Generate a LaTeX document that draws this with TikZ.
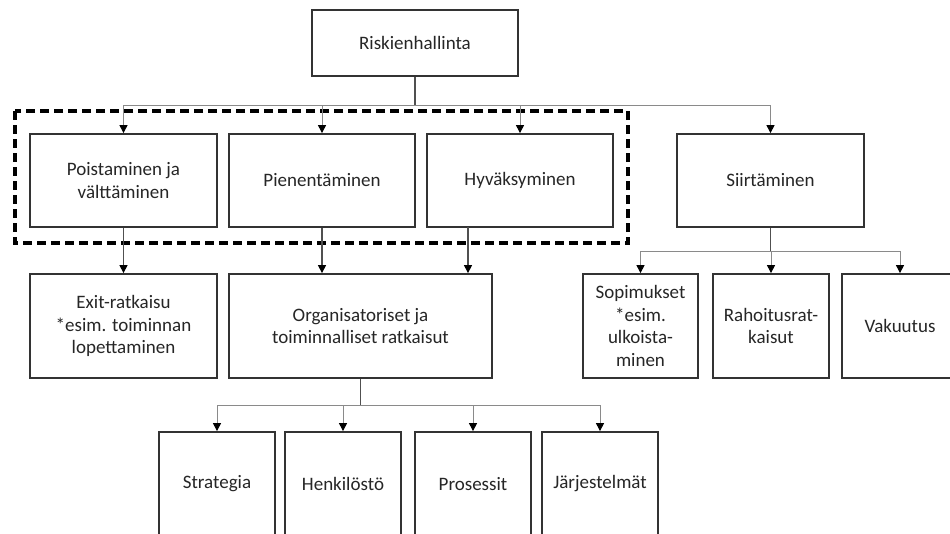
\documentclass[tikz,border=0pt]{standalone}
\usepackage{fontspec}
\setmainfont{Carlito}
\usetikzlibrary{arrows.meta}
\definecolor{boxline}{HTML}{333333}
\definecolor{txt}{HTML}{262626}
\definecolor{busline}{HTML}{8A8A8A}
\definecolor{trunkline}{HTML}{505050}
\begin{document}
\begin{tikzpicture}[x=1pt,y=-1pt,
  box/.style={draw=boxline, line width=1.8pt, fill=white, text=txt,
    align=center, inner sep=2pt,
    font=\fontsize{19}{22.7}\selectfont},
  trunk/.style={draw=trunkline, line width=1.2pt},
  tip/.style={-{Triangle[width=8pt,length=8pt,fill=black,color=black]}},
  link/.style={draw=busline, line width=1pt, tip},
  group/.style={draw=black, line width=3.8pt, dash pattern=on 9pt off 5pt}]
\useasboundingbox (0,0) rectangle (950,533);
\clip (0,0) rectangle (950,533);

% top level
\node[box, minimum width=206pt, minimum height=66pt] (risk) at (415,43) {Riskienhallinta};

% strategies
\node[box, minimum width=187pt, minimum height=93pt] (poist) at (123.5,180.5) {Poistaminen ja\\välttäminen};
\node[box, minimum width=186pt, minimum height=93pt] (pien) at (322,180.5) {Pienentäminen};
\node[box, minimum width=186pt, minimum height=93pt] (hyv) at (520,180.5) {Hyväksyminen};
\node[box, minimum width=187pt, minimum height=93pt] (siirt) at (770.5,180.5) {Siirtäminen};

% grouping frame around the first three strategies
\draw[group] (15,111) rectangle (628,243);

% means
\node[box, minimum width=187pt, minimum height=104pt] (exit) at (123.5,326) {Exit-ratkaisu\\*esim. toiminnan\\lopettaminen};
\node[box, minimum width=263pt, minimum height=104pt] (org) at (360.5,326) {Organisatoriset ja\\toiminnalliset ratkaisut};
\node[box, minimum width=115pt, minimum height=104pt] (sop) at (640.5,326) {Sopimukset\\*esim.\\ulkoista-\\minen};
\node[box, minimum width=116pt, minimum height=104pt] (rah) at (771,326) {Rahoitusrat-\\kaisut};
\node[box, minimum width=116pt, minimum height=104pt] (vak) at (900,326) {Vakuutus};

% organisational areas
\node[box, minimum width=116pt, minimum height=104pt] (strat) at (217,484) {Strategia};
\node[box, minimum width=116pt, minimum height=104pt] (henk) at (343,484) {Henkilöstö};
\node[box, minimum width=116pt, minimum height=104pt] (pros) at (473,484) {Prosessit};
\node[box, minimum width=116pt, minimum height=104pt] (jarj) at (600,484) {Järjestelmät};

% junction points
\coordinate (jr) at (415,105);
\coordinate (js) at (770.5,251);
\coordinate (jo) at (360.5,405);
\coordinate (hyvdrop) at (468,227);

% connectors from the top
\draw[trunk] (risk.south) -- (jr);
\draw[link] (jr) -| (poist.north);
\draw[link] (jr) -| (pien.north);
\draw[link] (jr) -| (hyv.north);
\draw[link] (jr) -| (siirt.north);

% connectors to the means
\draw[trunk, tip] (poist.south) -- (poist.south |- exit.north);
\draw[trunk, tip] (pien.south) -- (pien.south |- org.north);
\draw[trunk, tip] (hyvdrop) -- (hyvdrop |- org.north);

\draw[trunk] (siirt.south) -- (js);
\draw[link] (js) -| (sop.north);
\draw[link] (js) -| (rah.north);
\draw[link] (js) -| (vak.north);

% connectors to the organisational areas
\draw[trunk] (org.south) -- (jo);
\draw[link] (jo) -| (strat.north);
\draw[link] (jo) -| (henk.north);
\draw[link] (jo) -| (pros.north);
\draw[link] (jo) -| (jarj.north);
\end{tikzpicture}
\end{document}
